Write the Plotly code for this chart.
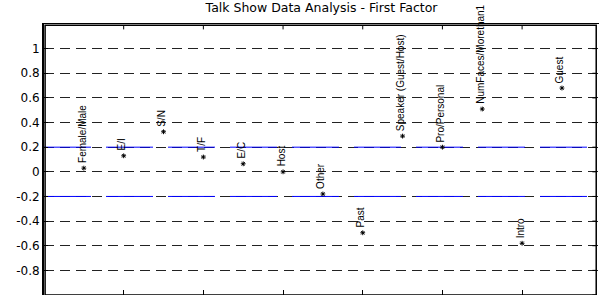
import plotly.graph_objects as go

TITLE = "Talk Show Data Analysis - First Factor"
labels = ["Female/Male", "E/I", "S/N", "T/F", "E/C", "Host", "Other", "Past",
          "Speaker (Guest/Host)", "Pro/Personal", "NumFaces/Morethan1", "Intro", "Guest"]
positions = [1, 2, 3, 4, 5, 6, 7, 8, 9, 10, 11, 12, 13]
loadings = [0.03, 0.13, 0.325, 0.12, 0.065, 0.0, -0.18, -0.495, 0.29, 0.2, 0.51, -0.58, 0.68]
thresholds = [0.2, -0.2]
y_ticks = [-1, -0.8, -0.6, -0.4, -0.2, 0, 0.2, 0.4, 0.6, 0.8, 1]
y_tick_text = ["-1", "-0.8", "-0.6", "-0.4", "-0.2", "0", "0.2", "0.4", "0.6", "0.8", "1"]
x_ticks = [2, 4, 6, 8, 10, 12]
X_MAX = 13.93
Y_RANGE = [-1, 1.2]

fig = go.Figure()

for t in thresholds:
    fig.add_trace(go.Scatter(x=[0, X_MAX], y=[t, t], mode="lines",
                             line=dict(color="#0000ff", width=1, dash="47px,15px"),
                             hoverinfo="skip", showlegend=False))

fig.add_trace(go.Scatter(x=positions, y=loadings, mode="markers",
                         marker=dict(symbol="asterisk-open", size=4, color="black",
                                     line=dict(color="black", width=1)),
                         showlegend=False, cliponaxis=False))

for xp, yv, lab in zip(positions, loadings, labels):
    fig.add_annotation(x=xp, y=yv, xref="x", yref="y", text=lab, showarrow=False,
                       textangle=-90, xanchor="center", yanchor="bottom",
                       xshift=-2, yshift=3,
                       font=dict(family="Liberation Sans", size=10, color="black"))

# frame: top and right edges of the box (drawn slightly inside), with mirrored ticks
fig.add_shape(type="rect", xref="paper", yref="paper", x0=0.002, x1=0.995, y0=0.0, y1=0.995,
              line=dict(color="black", width=1.5), layer="above")
for xt in x_ticks:
    fig.add_shape(type="line", xref="x", yref="paper", x0=xt, x1=xt, y0=0.995, y1=0.98,
                  line=dict(color="black", width=1), layer="above")
for yt in y_ticks:
    fig.add_shape(type="line", xref="paper", yref="y", x0=0.995, x1=0.988, y0=yt, y1=yt,
                  line=dict(color="black", width=1), layer="above")

fig.update_layout(
    width=601, height=295,
    margin=dict(l=44, r=2, t=24, b=0, autoexpand=False),
    paper_bgcolor="white", plot_bgcolor="white",
    title=dict(text=TITLE, x=0.535, xanchor="center", y=1, yanchor="top", pad=dict(t=3),
               font=dict(family="DejaVu Sans", size=12.5, color="black")),
    font=dict(family="DejaVu Sans", size=11, color="black"),
    xaxis=dict(range=[0, X_MAX], tickvals=x_ticks, showticklabels=False,
               ticks="inside", ticklen=5, tickcolor="black", showgrid=False,
               zeroline=False, showline=True, linecolor="black", linewidth=1,
               mirror=True, automargin=False),
    yaxis=dict(range=Y_RANGE, tickvals=y_ticks, ticktext=y_tick_text,
               ticks="inside", ticklen=4, tickcolor="black",
               showgrid=True, gridcolor="#222222", gridwidth=1, griddash="10px,6px",
               zeroline=False, showline=True, linecolor="black", linewidth=2,
               mirror=False, automargin=False,
               tickfont=dict(family="DejaVu Sans", size=12)),
)

fig.write_html("out.html", config={"displayModeBar": False},
               post_script="document.documentElement.style.overflow='hidden';"
                           "document.body.style.margin='0';document.body.style.overflow='hidden';")
